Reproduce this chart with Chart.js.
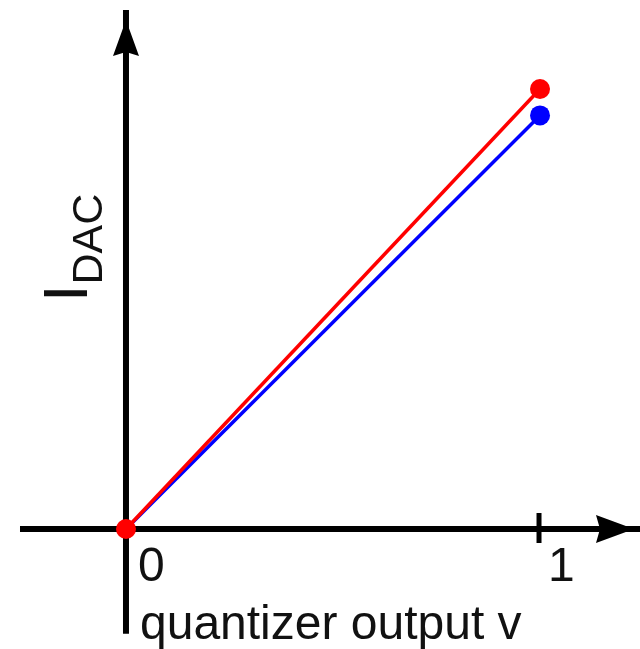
<!DOCTYPE html>
<html>
<head>
<meta charset="utf-8">
<script src="https://cdn.jsdelivr.net/npm/chart.js@4.4.1/dist/chart.umd.min.js"></script>
<style>
  html, body { margin: 0; padding: 0; background: #fff; }
  canvas { display: block; }
</style>
</head>
<body>
<canvas id="dacChart" width="640" height="649"></canvas>
<script>
// quantizer output v (x) and DAC current (y)
const quantizerOut = [0, 1];
const idacRed = [0, 1.0];
const idacBlue = [0, 0.94];
const tickValues = [0, 1];
const tickLabels = ['0', '1'];

const FONT = '"Liberation Sans", Arial, sans-serif';

// axes with arrows, tick and labels drawn around the data
const axisPlugin = {
    id: 'axisPlugin',
    beforeDatasetsDraw(chart) {
        const ctx = chart.ctx;
        const xs = chart.scales.x, ys = chart.scales.y;
        const x0 = xs.getPixelForValue(0), y0 = ys.getPixelForValue(0);
        const area = chart.chartArea;
        ctx.save();
        ctx.strokeStyle = '#000';
        ctx.fillStyle = '#000';
        ctx.lineWidth = 6;

        // horizontal axis
        ctx.beginPath();
        ctx.moveTo(xs.getPixelForValue(-0.256), y0);
        ctx.lineTo(area.right, y0);
        ctx.stroke();
        // vertical axis
        ctx.beginPath();
        ctx.moveTo(x0, ys.getPixelForValue(-0.238));
        ctx.lineTo(x0, area.top + 10);
        ctx.stroke();

        // arrow heads
        const ax = area.right - 6;
        ctx.beginPath();
        ctx.moveTo(ax, y0);
        ctx.lineTo(ax - 38, y0 - 14);
        ctx.lineTo(ax - 34, y0);
        ctx.lineTo(ax - 38, y0 + 14);
        ctx.closePath();
        ctx.fill();

        const ay = area.top + 20;
        ctx.beginPath();
        ctx.moveTo(x0, ay);
        ctx.lineTo(x0 - 13, ay + 36);
        ctx.lineTo(x0, ay + 32);
        ctx.lineTo(x0 + 13, ay + 36);
        ctx.closePath();
        ctx.fill();

        // tick at v = 1
        ctx.lineWidth = 5;
        ctx.beginPath();
        ctx.moveTo(xs.getPixelForValue(1) - 1, y0 - 16);
        ctx.lineTo(xs.getPixelForValue(1) - 1, y0 + 14);
        ctx.stroke();
        ctx.restore();
    },
    afterDraw(chart) {
        const ctx = chart.ctx;
        const xs = chart.scales.x, ys = chart.scales.y;
        const y0 = ys.getPixelForValue(0);
        ctx.save();
        ctx.fillStyle = '#111';
        ctx.textBaseline = 'alphabetic';
        ctx.textAlign = 'left';
        ctx.font = '48px ' + FONT;
        tickValues.forEach(function(v, i) {
            ctx.fillText(tickLabels[i], xs.getPixelForValue(v) + (i === 0 ? 12 : 8), y0 + 52);
        });
        ctx.fillText('quantizer output v', xs.getPixelForValue(0) + 14, chart.chartArea.bottom - 10);

        // I_DAC, rotated
        ctx.translate(87, 302);
        ctx.rotate(-Math.PI / 2);
        ctx.font = '63px ' + FONT;
        ctx.fillText('I', 0, 0);
        const w = ctx.measureText('I').width;
        ctx.font = '43px ' + FONT;
        ctx.fillText('DAC', w, 15);
        ctx.restore();
    }
};

const ctx = document.getElementById('dacChart').getContext('2d');
new Chart(ctx, {
    type: 'line',
    data: {
        datasets: [
            {
                label: 'red',
                data: quantizerOut.map(function(x, i) { return { x: x, y: idacRed[i] }; }),
                borderColor: '#ff0000',
                backgroundColor: '#ff0000',
                borderWidth: 3.5,
                pointRadius: 10,
                pointBorderWidth: 0,
                tension: 0
            },
            {
                label: 'blue',
                data: quantizerOut.map(function(x, i) { return { x: x, y: idacBlue[i] }; }),
                borderColor: '#0000ff',
                backgroundColor: '#0000ff',
                borderWidth: 3.5,
                pointRadius: [0, 10],
                pointBorderWidth: 0,
                tension: 0
            }
        ]
    },
    options: {
        responsive: false,
        animation: false,
        clip: false,
        layout: { padding: 0, autoPadding: false },
        plugins: { legend: { display: false }, tooltip: { enabled: false } },
        scales: {
            x: { type: 'linear', display: false, min: -0.3043, max: 1.2415 },
            y: { type: 'linear', display: false, min: -0.2727, max: 1.2023 }
        }
    },
    plugins: [axisPlugin]
});
</script>
</body>
</html>
